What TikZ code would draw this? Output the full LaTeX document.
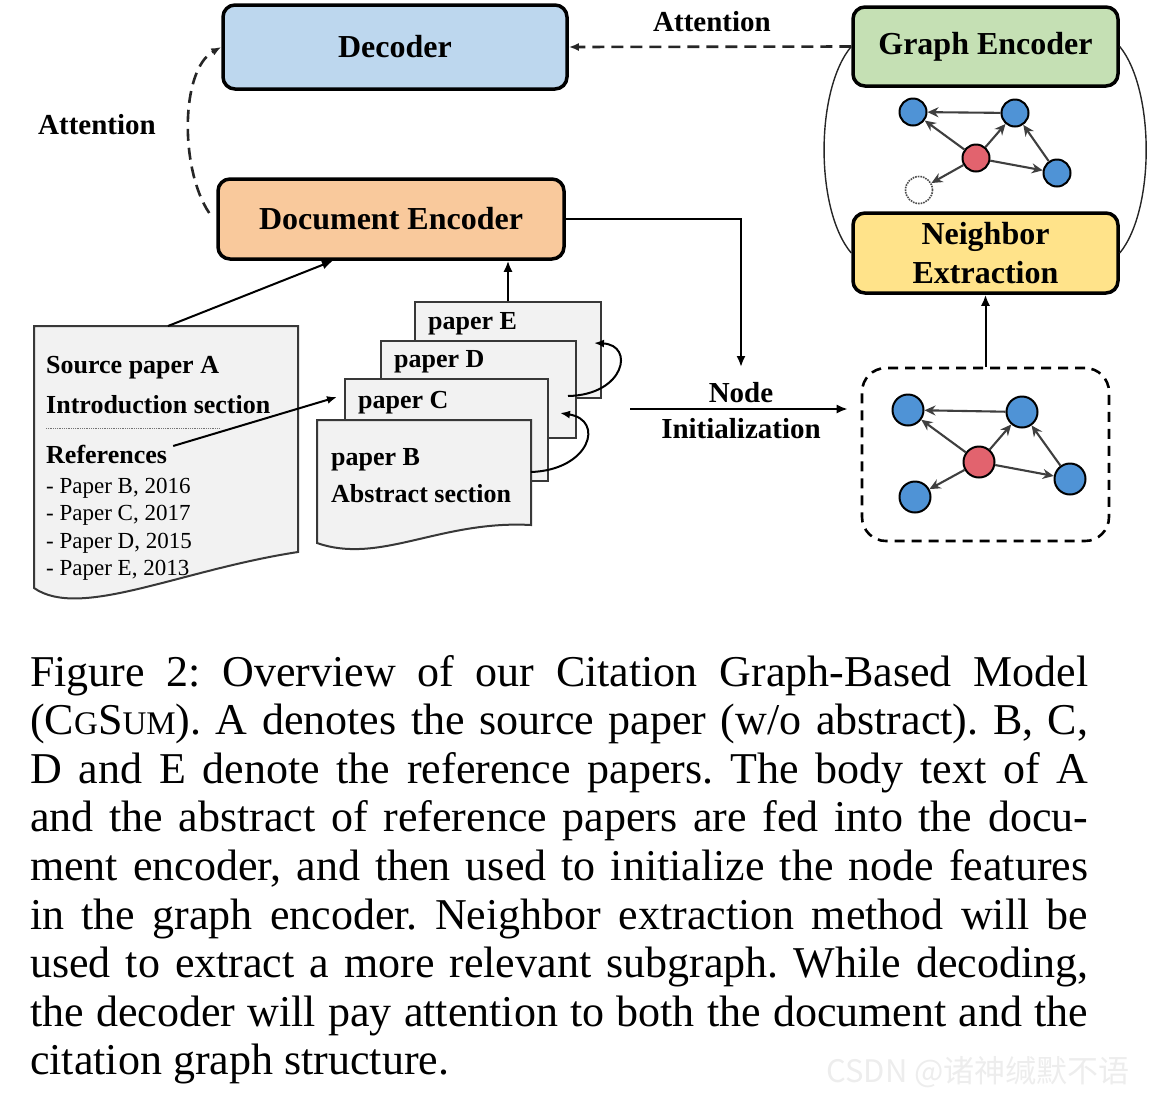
\documentclass[tikz,border=0pt]{standalone}
\usepackage{fontspec}
\setmainfont{Liberation Serif}
\newfontfamily\cjkfont{Noto Sans CJK SC}
\usetikzlibrary{arrows.meta,calc}

\definecolor{decblue}{HTML}{BDD7EE}
\definecolor{gegreen}{HTML}{C5E0B4}
\definecolor{deorange}{HTML}{F9C99C}
\definecolor{neyellow}{HTML}{FFE38A}
\definecolor{nodeblue}{HTML}{4F93D6}
\definecolor{nodered}{HTML}{E2636E}
\definecolor{papergray}{HTML}{F2F2F2}
\definecolor{paperline}{HTML}{383838}
\definecolor{edgegray}{HTML}{3F3F3F}
\definecolor{wmgray}{HTML}{EDEDED}

\begin{document}
\begin{tikzpicture}[x=1pt,y=-1pt,
  box/.style={draw=black, line width=3.5pt, rounded corners=12pt, inner sep=0pt,
    font=\fontsize{32}{39}\selectfont\bfseries, align=center},
  lbl/.style={inner sep=0pt, font=\fontsize{29}{36}\selectfont\bfseries, align=center},
  ptxt/.style={inner sep=0pt, anchor=base west, font=\fontsize{26}{30}\selectfont\bfseries},
  rtxt/.style={inner sep=0pt, anchor=base west, font=\fontsize{23}{27}\selectfont},
  paper/.style={draw=paperline, line width=2pt, fill=papergray},
  arr/.style={draw=black, line width=2pt, -{Latex[length=11pt,width=9pt]}},
  attn/.style={draw=black!85, line width=2.6pt, dash pattern=on 12pt off 7pt, -{Latex[length=10pt,width=8pt]}},
  thinline/.style={draw=black!85, line width=1.4pt},
  gnode/.style={circle, draw=black, line width=2pt, inner sep=0pt, fill=nodeblue},
  garrow/.style={draw=edgegray, line width=2.1pt, -{Stealth[length=11pt,width=10pt]}},
]
\useasboundingbox (0,0) rectangle (1154,1096);

% ---------- main boxes ----------
\node[box, fill=decblue, minimum width=344pt, minimum height=84pt] (Dec) at (395,47) {Decoder};
\node[box, fill=gegreen, minimum width=265pt, minimum height=79pt] (GE) at (985.5,46.5) {Graph Encoder};
\node[box, fill=deorange, minimum width=346pt, minimum height=80pt] (DocEnc) at (391,219) {Document Encoder};
\node[box, fill=neyellow, minimum width=265pt, minimum height=80pt] (NE) at (985.5,253) {Neighbor\\Extraction};

% ---------- labels ----------
\node[lbl] (attTop) at (712,22) {Attention};
\node[lbl] (attLeft) at (97,125) {Attention};
\node[lbl] (nodeInit) at (741,411) {Node\\Initialization};

% ---------- attention connectors ----------
\draw[attn] (GE.west) -- (Dec.east);
\draw[attn] ([xshift=-7pt,yshift=6pt]DocEnc.west) .. controls (180,170) and (180,70) .. (Dec.west);

% ---------- graph encoder loop ----------
\draw[thinline] (GE.west) .. controls (815,90) and (815,210) .. (NE.west);
\draw[thinline] (GE.east) .. controls (1155,90) and (1155,210) .. (NE.east);

% ---------- upper graph ----------
\node[gnode, minimum size=27pt] (g1) at (913,112) {};
\node[gnode, minimum size=27pt] (g2) at (1015,113) {};
\node[gnode, minimum size=27pt, fill=nodered] (g3) at (976,158) {};
\node[gnode, minimum size=27pt] (g4) at (1057,173) {};
\node[gnode, minimum size=27pt, fill=white, draw=black!70, line width=1.6pt, densely dotted] (g5) at (919,190) {};
\draw[garrow] (g2) -- (g1);
\draw[garrow] (g3) -- (g1);
\draw[garrow] (g3) -- (g2);
\draw[garrow] (g3) -- (g4);
\draw[garrow] (g4) -- (g2);
\draw[garrow] (g3) -- (g5);

% ---------- initialized graph ----------
\node[draw=black, line width=2.6pt, dash pattern=on 10pt off 7pt, rounded corners=24pt,
      minimum width=247pt, minimum height=173pt, inner sep=0pt] (GB) at (985.5,454.5) {};
\node[gnode, minimum size=31pt] (h1) at (908,410) {};
\node[gnode, minimum size=31pt] (h2) at (1022,412) {};
\node[gnode, minimum size=31pt, fill=nodered] (h3) at (979,462) {};
\node[gnode, minimum size=31pt] (h4) at (1070,479) {};
\node[gnode, minimum size=31pt] (h5) at (915,497) {};
\draw[garrow] (h2) -- (h1);
\draw[garrow] (h3) -- (h1);
\draw[garrow] (h3) -- (h2);
\draw[garrow] (h3) -- (h4);
\draw[garrow] (h4) -- (h2);
\draw[garrow] (h3) -- (h5);

\draw[arr] (GB.north) -- (NE.south);

% ---------- document encoder to node init ----------
\coordinate (niTop) at (741,367);
\draw[arr] (DocEnc.east) -| (niTop);
\coordinate (niStart) at (630,409);
\draw[arr, shorten >=13pt] (niStart) -- (niStart -| GB.west);

% ---------- reference papers ----------
\node[paper, anchor=north west, minimum width=186pt, minimum height=96pt, inner sep=0pt] (pE) at (414,301) {};
\node[paper, anchor=north west, minimum width=195pt, minimum height=97pt, inner sep=0pt] (pD) at (380,340) {};
\node[paper, anchor=north west, minimum width=203pt, minimum height=102pt, inner sep=0pt] (pC) at (344,378) {};
\draw[paper] (317,420) -- (531,420) -- (531,525) .. controls (440,520) and (380,565) .. (317,543) -- cycle;
\coordinate (pBright) at (531,472);
\coordinate (pDin) at (568,396);

\node[ptxt] (tE) at (428,329) {paper E};
\node[ptxt] (tD) at (394,367) {paper D};
\node[ptxt] (tC) at (358,408) {paper C};
\node[ptxt] (tB) at (331,465) {paper B};
\node[ptxt] (tBabs) at (331,502) {Abstract section};

\draw[draw=black, line width=2pt, -{Latex[length=10pt,width=8pt]}] (pBright) .. controls (590,470) and (605,420) .. ([xshift=11pt,yshift=17pt]pC.east);
\draw[draw=black, line width=2pt, -{Latex[length=10pt,width=8pt]}] (pDin) .. controls (625,395) and (635,345) .. ([xshift=-8pt,yshift=7pt]pE.east);

\draw[arr] (pE.north) -- (pE.north |- DocEnc.south);

% ---------- source paper A ----------
\draw[paper] (34,326) -- (298,326) -- (298,552) .. controls (180,570) and (80,620) .. (34,588) -- cycle;
\coordinate (Atop) at (168,326);
\node[ptxt] (tA1) at (46,373) {Source paper A};
\node[ptxt] (tA2) at (46,413) {Introduction section};
\draw[draw=black!55, line width=0.8pt, densely dotted] (46,428) -- (220,428);
\node[ptxt] (refs) at (46,463) {References};
\node[rtxt] (r1) at (46,493) {- Paper B, 2016};
\node[rtxt] (r2) at (46,520.5) {- Paper C, 2017};
\node[rtxt] (r3) at (46,548) {- Paper D, 2015};
\node[rtxt] (r4) at (46,575.5) {- Paper E, 2013};

\draw[arr] (Atop) -- ([xshift=-58pt]DocEnc.south);
\draw[draw=black, line width=2pt, -{Latex[length=10pt,width=8pt]}] ([xshift=6pt,yshift=8pt]refs.east) -- ([xshift=-7pt,yshift=33pt]pC.west);

% ---------- caption ----------
\node[anchor=base west, inner sep=0pt, text width=1058pt, align=justify,
      font=\fontsize{44}{48.6}\selectfont] (cap) at (30,686)
{\frenchspacing\tolerance=9999
Figure 2: Overview of our Citation Graph-Based Model\linebreak
(C{\fontsize{33}{33}\selectfont G}S{\fontsize{33}{33}\selectfont UM}). A denotes the source paper (w/o abstract). B, C,\linebreak
D and E denote the reference papers. The body text of A\linebreak
and the abstract of reference papers are fed into the docu-\linebreak
ment encoder, and then used to initialize the node features\linebreak
in the graph encoder. Neighbor extraction method will be\linebreak
used to extract a more relevant subgraph. While decoding,\linebreak
the decoder will pay attention to both the document and the\linebreak
citation graph structure.};

% ---------- watermark ----------
\node[inner sep=0pt, text=wmgray, font=\cjkfont\fontsize{31}{32}\selectfont] (wm) at (978,1072) {CSDN @诸神缄默不语};
\end{tikzpicture}
\end{document}
